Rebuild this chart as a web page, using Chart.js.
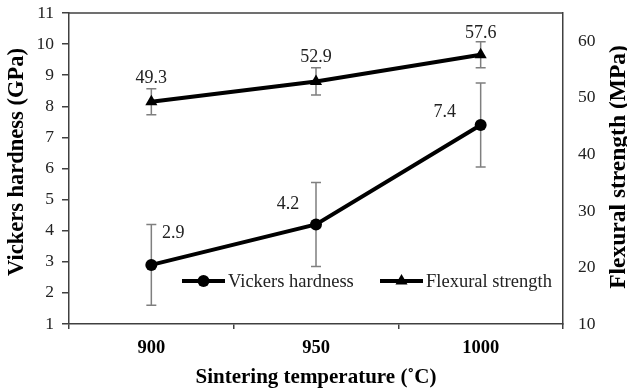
<!DOCTYPE html>
<html>
<head>
<meta charset="utf-8">
<script src="https://cdn.jsdelivr.net/npm/chart.js@4"></script>
<style>
  body { margin: 0; background: #fff; }
  #wrap { width: 627px; height: 390px; }
</style>
</head>
<body>
<div id="wrap"><canvas id="myChart" width="627" height="390"></canvas></div>
<script>
// data
const temps = ['900', '950', '1000'];
const hardness = [2.9, 4.2, 7.4];
const hardnessErr = [1.3, 1.35, 1.35];
const strength = [49.3, 52.9, 57.6];
const strengthErr = [2.3, 2.4, 2.3];

const serif = '"Liberation Serif", "Times New Roman", serif';
const axisGray = '#404040';

// where each value label sits relative to its point (px)
const labelShift = {
  0: [[22, -32], [-28, -20], [-36, -13]],
  1: [[0, -24], [0, -24], [0, -22]]
};
const errors = { 0: hardnessErr, 1: strengthErr };

function vertTitle(ctx, text, x, y, size) {
  ctx.save();
  ctx.translate(x, y);
  ctx.rotate(-Math.PI / 2);
  ctx.textAlign = 'center';
  ctx.textBaseline = 'middle';
  ctx.fillStyle = '#000';
  ctx.font = 'bold ' + size + 'px ' + serif;
  ctx.fillText(text, 0, 0);
  ctx.restore();
}

const extras = {
  id: 'extras',
  beforeDatasetsDraw(chart) {
    const ctx = chart.ctx;
    ctx.save();
    ctx.strokeStyle = '#7f7f7f';
    ctx.lineWidth = 1.5;
    chart.data.datasets.forEach((ds, i) => {
      const meta = chart.getDatasetMeta(i);
      const sc = chart.scales[ds.yAxisID];
      meta.data.forEach((pt, j) => {
        const v = ds.data[j], e = errors[i][j];
        const top = sc.getPixelForValue(v + e), bot = sc.getPixelForValue(v - e);
        ctx.beginPath();
        ctx.moveTo(pt.x, top); ctx.lineTo(pt.x, bot);
        ctx.moveTo(pt.x - 5, top); ctx.lineTo(pt.x + 5, top);
        ctx.moveTo(pt.x - 5, bot); ctx.lineTo(pt.x + 5, bot);
        ctx.stroke();
      });
    });
    ctx.restore();
  },
  afterDatasetsDraw(chart) {
    const ctx = chart.ctx;
    const a = chart.chartArea;
    ctx.save();
    // frame top
    ctx.strokeStyle = axisGray;
    ctx.lineWidth = 1.5;
    ctx.beginPath();
    ctx.moveTo(a.left, a.top); ctx.lineTo(a.right, a.top);
    ctx.stroke();

    // value labels
    ctx.fillStyle = '#222';
    ctx.font = '18px ' + serif;
    ctx.textAlign = 'center';
    ctx.textBaseline = 'middle';
    chart.data.datasets.forEach((ds, i) => {
      chart.getDatasetMeta(i).data.forEach((pt, j) => {
        const s = labelShift[i][j];
        ctx.fillText(ds.data[j].toFixed(1), pt.x + s[0], pt.y + s[1]);
      });
    });

    // legend inside the plot
    const legendPos = [[182, 281], [380, 281]];
    const styles = ['circle', 'triangle'];
    chart.data.datasets.forEach((ds, i) => {
      const [x, y] = legendPos[i];
      ctx.strokeStyle = '#000';
      ctx.lineWidth = 4;
      ctx.beginPath();
      ctx.moveTo(x, y); ctx.lineTo(x + 43, y);
      ctx.stroke();
      ctx.fillStyle = '#000';
      Chart.helpers.drawPoint(ctx, { pointStyle: styles[i], radius: i ? 7 : 6, borderWidth: 0 }, x + 21.5, y);
      ctx.fillStyle = '#222';
      ctx.textAlign = 'left';
      ctx.font = '18.5px ' + serif;
      ctx.fillText(ds.label, x + 46, y + 1);
    });
    ctx.restore();

    // axis titles, both reading bottom to top
    vertTitle(ctx, 'Vickers hardness (GPa)', 17, 162, 22.5);
    vertTitle(ctx, 'Flexural strength (MPa)', 619, 167, 23.5);
  }
};

function fixY(width) {
  return function (s) {
    s.width = width;
    s.paddingTop = 0;
    s.paddingBottom = 0;
  };
}

new Chart(document.getElementById('myChart'), {
  type: 'line',
  data: {
    labels: temps,
    datasets: [
      {
        label: 'Vickers hardness',
        data: hardness,
        yAxisID: 'y',
        borderColor: '#000',
        backgroundColor: '#000',
        borderWidth: 4,
        pointStyle: 'circle',
        pointRadius: 6,
        pointBorderWidth: 0,
        tension: 0
      },
      {
        label: 'Flexural strength',
        data: strength,
        yAxisID: 'y1',
        borderColor: '#000',
        backgroundColor: '#000',
        borderWidth: 4,
        pointStyle: 'triangle',
        pointRadius: 7,
        pointBorderWidth: 0,
        tension: 0
      }
    ]
  },
  options: {
    responsive: false,
    animation: false,
    layout: { padding: { top: 13 } },
    plugins: {
      legend: { display: false },
      tooltip: { enabled: false }
    },
    scales: {
      x: {
        offset: true,
        grid: { offset: true, drawOnChartArea: false, color: axisGray, lineWidth: 1.5, tickLength: 5 },
        border: { color: axisGray, width: 1.5 },
        ticks: { color: '#000', font: { family: serif, size: 18.5, weight: 'bold' }, padding: 8 },
        title: {
          display: true,
          text: 'Sintering temperature (˚C)',
          color: '#000',
          font: { family: serif, size: 21, weight: 'bold' },
          padding: { top: 0, bottom: 0 }
        },
        afterFit(s) { s.height = 66; }
      },
      y: {
        position: 'left',
        min: 1,
        max: 11,
        ticks: { stepSize: 1, color: '#222', font: { family: serif, size: 17.5 }, padding: 8 },
        grid: { drawOnChartArea: false, color: axisGray, lineWidth: 1.5, tickLength: 7 },
        border: { color: axisGray, width: 1.5 },
        afterFit: fixY(69)
      },
      y1: {
        position: 'right',
        min: 10,
        max: 65,
        ticks: { stepSize: 10, color: '#222', font: { family: serif, size: 17.5 }, padding: 15 },
        grid: { drawOnChartArea: false, drawTicks: false },
        border: { color: axisGray, width: 1.5 },
        afterBuildTicks(s) { s.ticks = s.ticks.filter(t => t.value % 10 === 0); },
        afterFit: fixY(64)
      }
    }
  },
  plugins: [extras]
});
</script>
</body>
</html>
